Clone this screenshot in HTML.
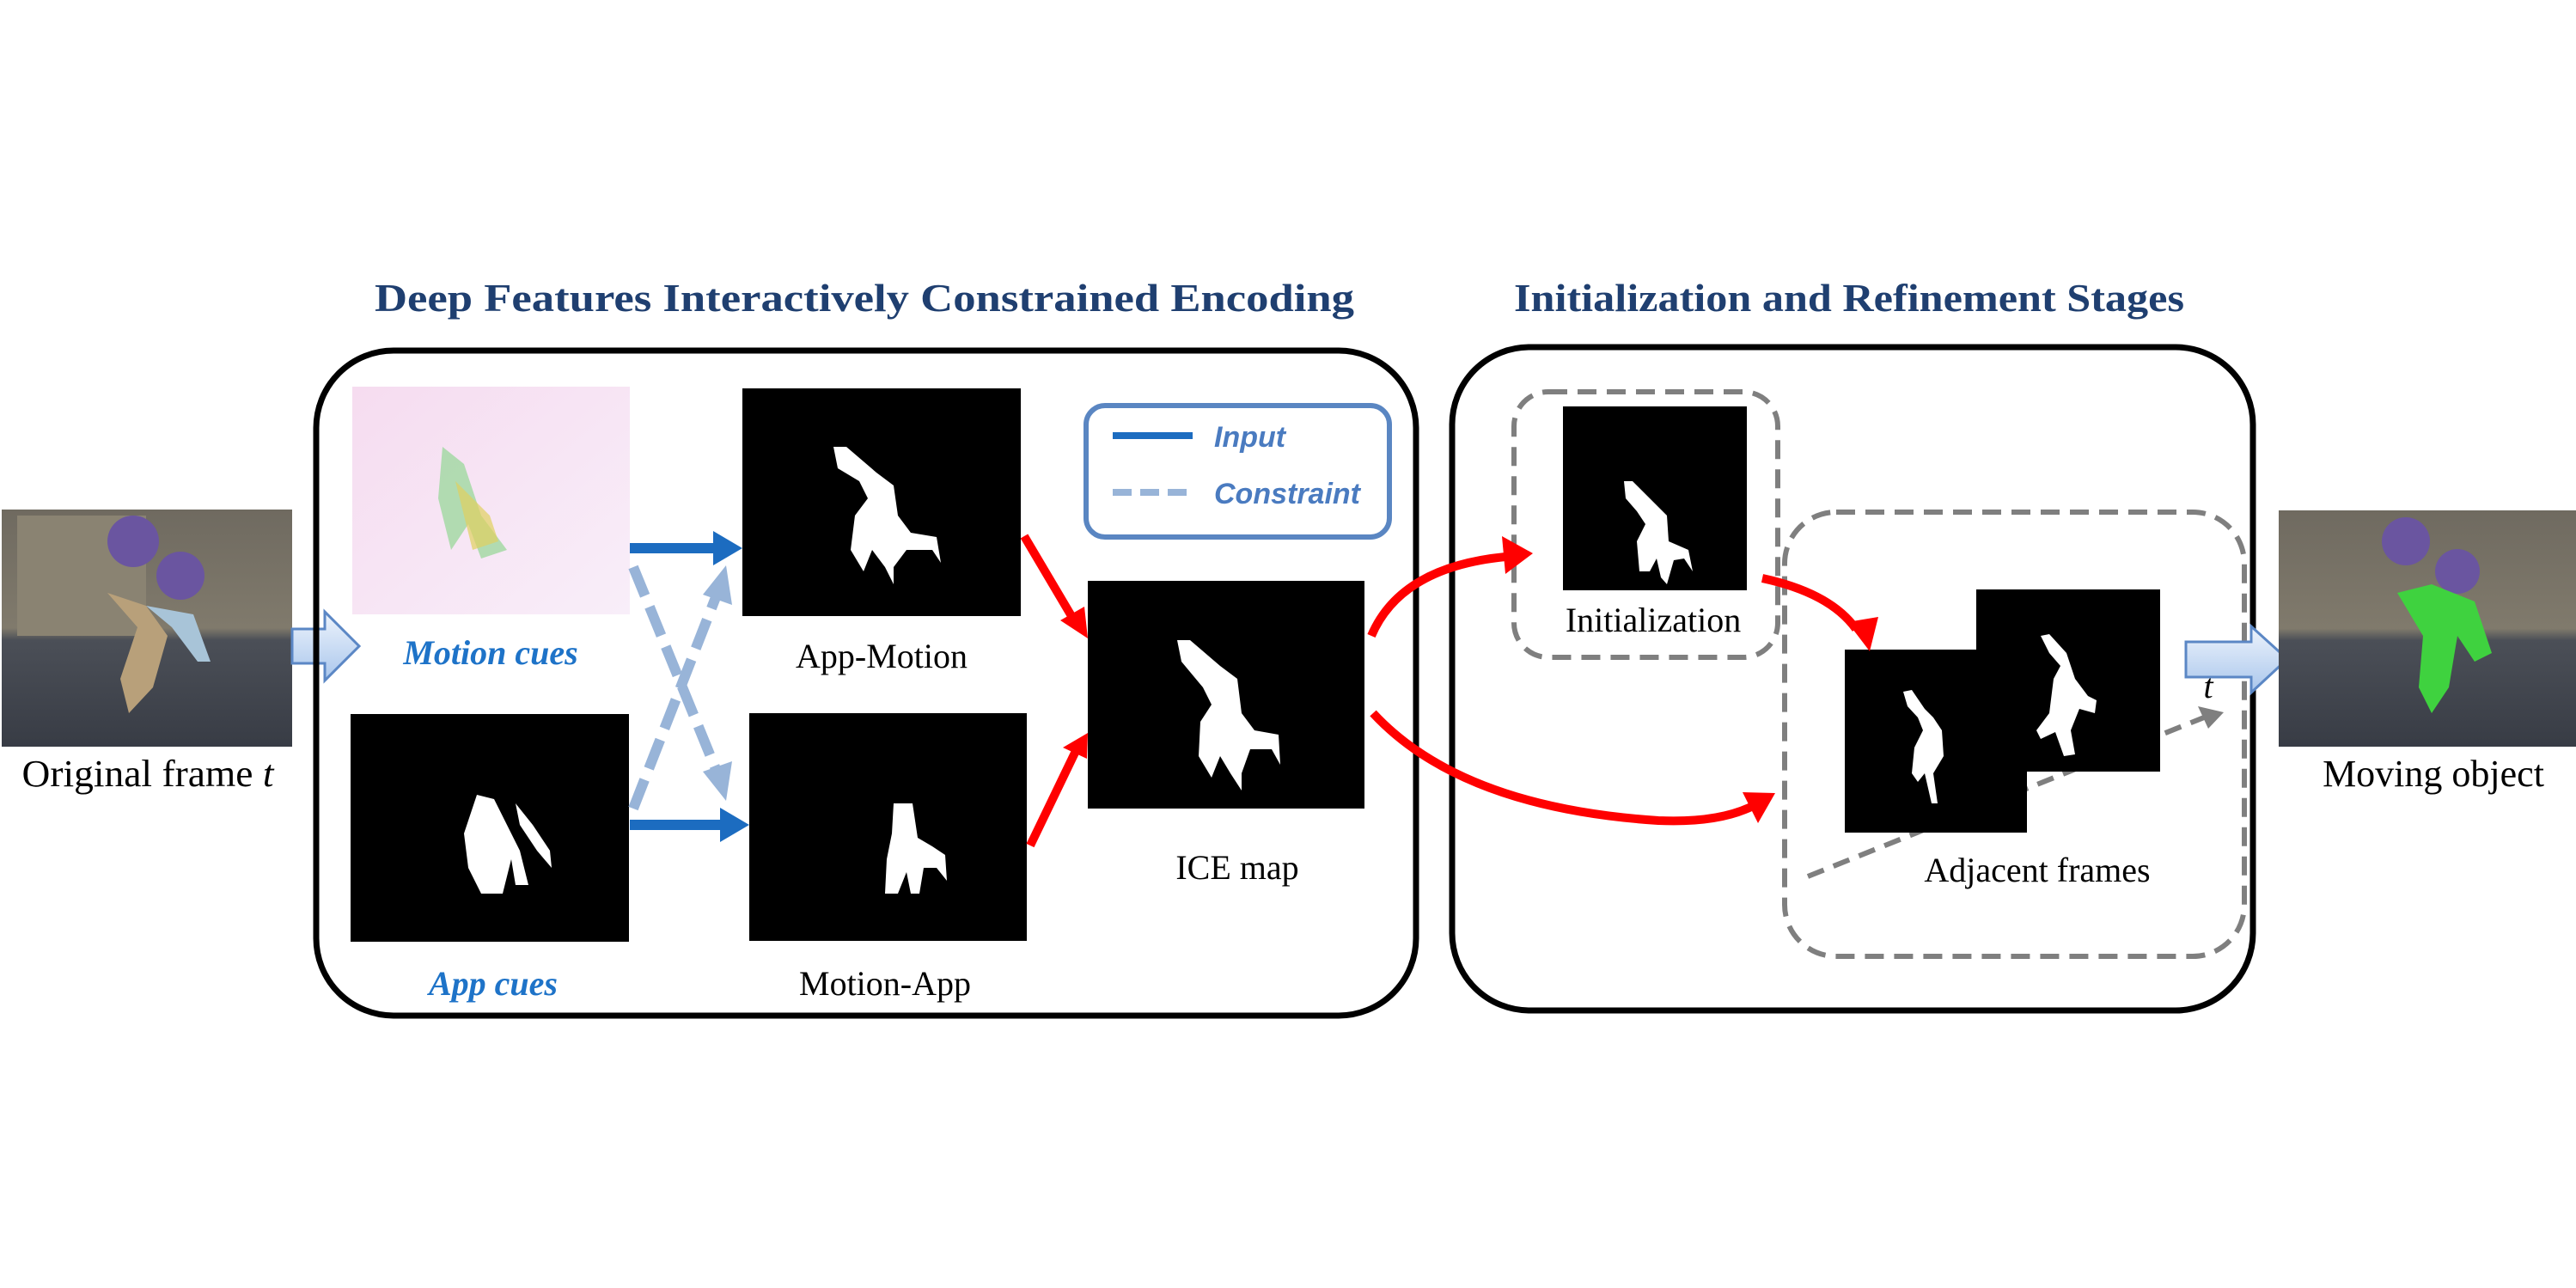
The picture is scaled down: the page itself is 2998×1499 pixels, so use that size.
<!DOCTYPE html>
<html><head><meta charset="utf-8"><style>
html,body{margin:0;padding:0;background:#fff;}
svg{display:block;}
.t{font-family:"Liberation Serif",serif;}
</style></head><body>
<svg width="2998" height="1499" viewBox="0 0 2998 1499" xmlns="http://www.w3.org/2000/svg">
<defs>
<linearGradient id="ag" x1="0" y1="0" x2="0" y2="1"><stop offset="0" stop-color="#eef4fc"/><stop offset="1" stop-color="#a9c6ec"/></linearGradient>
<linearGradient id="ph" x1="0" y1="0" x2="0" y2="1"><stop offset="0" stop-color="#6f6a60"/><stop offset="0.5" stop-color="#807a6c"/><stop offset="0.55" stop-color="#4b4f57"/><stop offset="1" stop-color="#383c45"/></linearGradient>
<linearGradient id="pk" x1="0" y1="0" x2="1" y2="1"><stop offset="0" stop-color="#f6dcf0"/><stop offset="1" stop-color="#f8eef9"/></linearGradient>
</defs>

<text class="t" x="1006" y="362" font-size="46" font-weight="bold" fill="#1f3f70" text-anchor="middle" textLength="1140" lengthAdjust="spacingAndGlyphs">Deep Features Interactively Constrained Encoding</text>
<text class="t" x="2152" y="362" font-size="46" font-weight="bold" fill="#1f3f70" text-anchor="middle" textLength="780" lengthAdjust="spacingAndGlyphs">Initialization and Refinement Stages</text>

<rect x="2" y="593" width="338" height="276" fill="url(#ph)"/>
<rect x="20" y="600" width="150" height="140" fill="#8a8372"/>
<circle cx="155" cy="630" r="30" fill="#6a55a0"/><circle cx="210" cy="670" r="28" fill="#6a55a0"/>
<path d="M125 690 L170 705 L195 740 L178 800 L150 830 L140 790 L160 730 Z" fill="#b8a07a"/>
<path d="M170 705 L225 715 L245 770 L230 770 L200 730 Z" fill="#a8c4d8"/>
<path d="M340 732 L378 732 L378 712 L418 752 L378 792 L378 772 L340 772 Z" fill="url(#ag)" stroke="#5b87c5" stroke-width="3"/>
<text class="t" x="172" y="915" font-size="44" text-anchor="middle" textLength="293" lengthAdjust="spacingAndGlyphs">Original frame <tspan font-style="italic">t</tspan></text>

<rect x="368" y="408" width="1280" height="774" rx="90" fill="none" stroke="#000" stroke-width="7"/>

<rect x="410" y="450" width="323" height="265" fill="url(#pk)"/>
<path d="M515 520 L540 540 L560 600 L590 640 L560 650 L545 610 L525 640 L510 580 Z" fill="#9fd8a0" opacity="0.8"/>
<path d="M530 560 L570 600 L580 630 L550 640 Z" fill="#e0d060" opacity="0.7"/>
<text class="t" x="571" y="773" font-size="40" font-weight="bold" font-style="italic" fill="#1e73c8" text-anchor="middle">Motion cues</text>

<rect x="408" y="831" width="324" height="265" fill="#000"/>
<path d="M555 925 L575 930 L590 960 L605 990 L615 1030 L600 1030 L595 1000 L585 1040 L560 1040 L545 1010 L540 970 Z" fill="#fff"/>
<path d="M600 935 L620 960 L640 990 L642 1010 L625 990 L605 960 Z" fill="#fff"/>
<text class="t" x="574" y="1158" font-size="40" font-weight="bold" font-style="italic" fill="#1e73c8" text-anchor="middle">App cues</text>

<rect x="864" y="452" width="324" height="265" fill="#000"/>
<path d="M970 520 L985 520 L1020 550 L1040 565 L1045 600 L1060 620 L1090 625 L1095 655 L1085 640 L1055 640 L1040 660 L1040 680 L1030 660 L1015 640 L1005 665 L990 640 L995 600 L1010 580 L1000 560 L975 545 Z" fill="#fff"/>
<text class="t" x="1026" y="777" font-size="40" text-anchor="middle">App-Motion</text>

<rect x="872" y="830" width="323" height="265" fill="#000"/>
<path d="M1040 935 L1062 935 L1068 975 L1085 985 L1100 995 L1102 1025 L1090 1010 L1075 1010 L1070 1040 L1060 1040 L1055 1015 L1045 1040 L1030 1040 L1032 1000 L1038 970 Z" fill="#fff"/>
<text class="t" x="1030" y="1158" font-size="40" text-anchor="middle">Motion-App</text>

<rect x="1266" y="676" width="322" height="265" fill="#000"/>
<path d="M1370 745 L1385 745 L1420 775 L1440 790 L1445 830 L1460 850 L1488 855 L1490 890 L1480 872 L1455 872 L1445 900 L1445 920 L1432 900 L1420 880 L1410 905 L1395 880 L1397 840 L1410 820 L1400 800 L1375 770 Z" fill="#fff"/>
<text class="t" x="1440" y="1023" font-size="40" text-anchor="middle">ICE map</text>

<rect x="1264" y="472" width="353" height="153" rx="22" fill="none" stroke="#5a86c2" stroke-width="6"/>
<line x1="1295" y1="507" x2="1388" y2="507" stroke="#1c6cc0" stroke-width="8"/>
<line x1="1295" y1="573" x2="1388" y2="573" stroke="#98b4d8" stroke-width="8" stroke-dasharray="22,10"/>
<text x="1413" y="520" font-family="Liberation Sans,sans-serif" font-size="34" font-style="italic" font-weight="bold" fill="#4a7bc0">Input</text>
<text x="1413" y="586" font-family="Liberation Sans,sans-serif" font-size="34" font-style="italic" font-weight="bold" fill="#4a7bc0">Constraint</text>

<line x1="733" y1="638" x2="835" y2="638" stroke="#1c6cc0" stroke-width="12"/>
<path d="M864 638 L830 618 L830 658 Z" fill="#1c6cc0"/>
<line x1="733" y1="960" x2="842" y2="960" stroke="#1c6cc0" stroke-width="12"/>
<path d="M872 960 L838 940 L838 980 Z" fill="#1c6cc0"/>
<line x1="737" y1="660" x2="835" y2="900" stroke="#98b4d8" stroke-width="12" stroke-dasharray="36,14"/>
<path d="M845 932 L818 898 L852 886 Z" fill="#98b4d8"/>
<line x1="737" y1="941" x2="835" y2="690" stroke="#98b4d8" stroke-width="12" stroke-dasharray="36,14"/>
<path d="M845 658 L818 692 L852 704 Z" fill="#98b4d8"/>

<line x1="1192" y1="624" x2="1250" y2="722" stroke="#f00" stroke-width="10"/>
<path d="M1266 743 L1234 722 L1262 706 Z" fill="#f00"/>
<line x1="1199" y1="984" x2="1252" y2="874" stroke="#f00" stroke-width="10"/>
<path d="M1266 853 L1237 870 L1265 883 Z" fill="#f00"/>

<rect x="1690" y="404" width="932" height="772" rx="90" fill="none" stroke="#000" stroke-width="7"/>

<rect x="1762" y="456" width="307" height="309" rx="40" fill="none" stroke="#7f7f7f" stroke-width="6" stroke-dasharray="22,12"/>
<rect x="1819" y="473" width="214" height="214" fill="#000"/>
<path d="M1890 560 L1900 560 L1925 585 L1940 600 L1942 630 L1965 640 L1970 665 L1960 650 L1948 652 L1940 680 L1933 672 L1928 650 L1920 665 L1908 665 L1905 630 L1915 610 L1905 595 L1892 580 Z" fill="#fff"/>
<text class="t" x="1924" y="735" font-size="40" text-anchor="middle">Initialization</text>

<rect x="2077" y="596" width="535" height="517" rx="60" fill="none" stroke="#7f7f7f" stroke-width="6" stroke-dasharray="22,12"/>
<line x1="2104" y1="1020" x2="2570" y2="833" stroke="#7f7f7f" stroke-width="6" stroke-dasharray="20,12"/>
<path d="M2588 829 L2558 822 L2570 848 Z" fill="#7f7f7f"/>
<rect x="2300" y="686" width="214" height="212" fill="#000"/>
<path d="M2375 740 L2385 738 L2405 760 L2415 790 L2430 810 L2440 815 L2438 830 L2420 825 L2410 850 L2415 878 L2402 880 L2392 852 L2375 860 L2370 850 L2385 830 L2390 790 L2398 775 L2385 760 Z" fill="#fff"/>
<rect x="2147" y="756" width="212" height="213" fill="#000"/>
<path d="M2215 805 L2225 803 L2240 825 L2250 835 L2260 850 L2262 880 L2250 900 L2255 935 L2248 935 L2240 900 L2232 910 L2225 900 L2228 870 L2238 850 L2232 835 L2220 822 Z" fill="#fff"/>
<text class="t" x="2371" y="1026" font-size="40" text-anchor="middle">Adjacent frames</text>
<text class="t" x="2570" y="812" font-size="40" font-style="italic" text-anchor="middle">t</text>

<path d="M1596 740 Q1630 660 1752 648" fill="none" stroke="#f00" stroke-width="10"/>
<path d="M1784 644 L1748 624 L1752 668 Z" fill="#f00"/>
<path d="M1598 830 Q1700 940 1930 955 Q2000 958 2040 938" fill="none" stroke="#f00" stroke-width="10"/>
<path d="M2066 923 L2028 922 L2046 958 Z" fill="#f00"/>
<path d="M2051 673 Q2130 690 2160 732" fill="none" stroke="#f00" stroke-width="10"/>
<path d="M2176 758 L2150 724 L2186 718 Z" fill="#f00"/>

<path d="M2544 747 L2620 747 L2620 729 L2662 767 L2620 806 L2620 788 L2544 788 Z" fill="url(#ag)" stroke="#5b87c5" stroke-width="3"/>

<rect x="2652" y="594" width="346" height="275" fill="url(#ph)"/>
<circle cx="2800" cy="630" r="28" fill="#6a55a0"/><circle cx="2860" cy="665" r="26" fill="#6a55a0"/>
<path d="M2790 690 L2830 680 L2880 700 L2900 760 L2880 770 L2860 740 L2850 800 L2830 830 L2815 800 L2820 740 Z" fill="#3fd23f"/>
<text class="t" x="2832" y="915" font-size="44" text-anchor="middle">Moving object</text>
</svg>
</body></html>
